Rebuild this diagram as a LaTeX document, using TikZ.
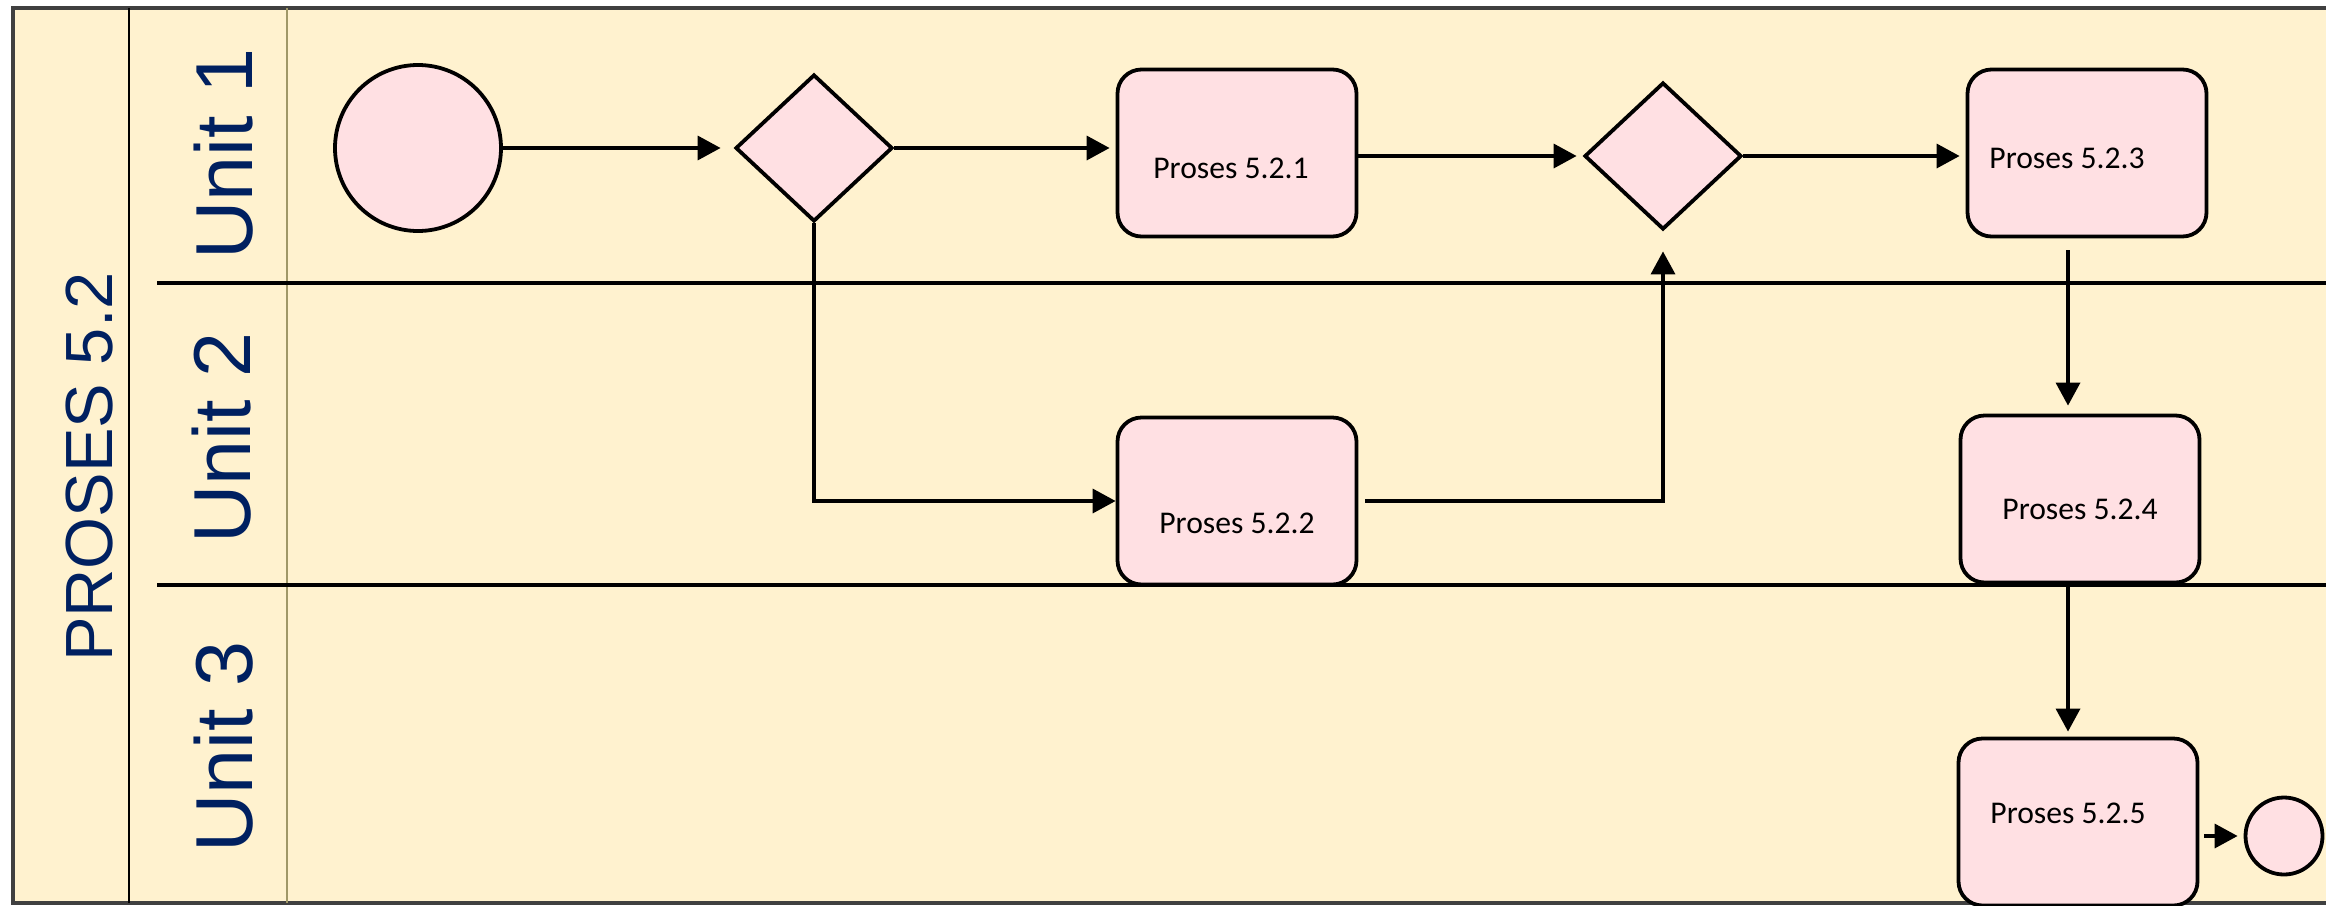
\documentclass[tikz,border=0pt]{standalone}
\usepackage{fontspec}
\setmainfont{Carlito}
\newfontfamily\lanefont{Liberation Sans}
\usetikzlibrary{arrows.meta,shapes.geometric}
\definecolor{lanebg}{HTML}{FFF2CF}
\definecolor{shapefill}{HTML}{FFE0E3}
\definecolor{lanetext}{HTML}{002060}
\definecolor{laneframe}{HTML}{404040}
\definecolor{laneedge}{HTML}{A09868}
\tikzset{
	task/.style={draw, line width=0.38mm, fill=shapefill, rounded corners=0.24cm, minimum width=2.39cm, minimum height=1.67cm, inner sep=0},
	tasktext/.style={font=\fontsize{9}{11}\selectfont, text=black},
	gate/.style={draw, diamond, line width=0.38mm, fill=shapefill, minimum width=1.57cm, minimum height=1.47cm, inner sep=0},
	event/.style={draw, circle, line width=0.38mm, fill=shapefill, inner sep=0},
	flow/.style={line width=0.35mm, -{Triangle[length=0.23cm, width=0.24cm]}},
	lanename/.style={rotate=90, text=lanetext, inner sep=0}
}

\begin{document}
\begin{tikzpicture}
			%%%%% START %%%%%
			\useasboundingbox (0, 0) rectangle (23.26, 9.05);
			\fill[white] (0, 0) rectangle (23.26, 9.05);
			
			\draw[line width=0.4mm, draw=laneframe, fill=lanebg] (0.13, 0.02) rectangle (23.6, 8.97);
			\draw[line width=0.22mm] (1.29, 0.02) -- (1.29, 8.97);
			\draw[line width=0.22mm, draw=laneedge] (2.87, 0.02) -- (2.87, 8.97);
			
			\draw[line width=0.35mm] (1.57, 6.22) -- (23.6, 6.22);
			\draw[line width=0.35mm] (1.57, 3.20) -- (23.6, 3.20);
			
			\node[lanename, font=\lanefont\fontsize{19}{19}\selectfont] (pool) at (0.90, 4.38) {PROSES 5.2};
			\node[lanename, font=\lanefont\fontsize{23}{23}\selectfont] (unit1) at (2.24, 7.51) {Unit 1};
			\node[lanename, font=\lanefont\fontsize{23}{23}\selectfont] (unit2) at (2.22, 4.67) {Unit 2};
			\node[lanename, font=\lanefont\fontsize{23}{23}\selectfont] (unit3) at (2.24, 1.58) {Unit 3};
			
			\node[event, minimum size=1.66cm] (start) at (4.18, 7.57) {};
			\node[gate] (gate1) at (8.14, 7.57) {};
			\node[task, label={[tasktext, xshift=-0.06cm, yshift=-0.15cm]center:Proses 5.2.1}] (p1) at (12.37, 7.52) {};
			\node[task, label={[tasktext, yshift=-0.22cm]center:Proses 5.2.2}] (p2) at (12.37, 4.04) {};
			\node[gate] (gate2) at (16.63, 7.49) {};
			\node[task, label={[tasktext, xshift=-0.20cm, yshift=-0.05cm]center:Proses 5.2.3}] (p3) at (20.87, 7.52) {};
			\node[task, label={[tasktext, yshift=-0.10cm]center:Proses 5.2.4}] (p4) at (20.80, 4.06) {};
			\node[task, label={[tasktext, xshift=-0.10cm, yshift=0.09cm]center:Proses 5.2.5}] (p5) at (20.78, 0.83) {};
			\node[event, minimum size=0.77cm] (stop) at (22.84, 0.69) {};
			\coordinate (drop) at (20.68, 0);
			
			\draw[flow, shorten >=0.13cm] (start) -- (gate1);
			\draw[flow, shorten >=0.06cm] (gate1.east) -- (gate1.east -| p1.west);
			\draw[flow] (gate1.south) |- (p2.west);
			\draw[flow, shorten >=0.06cm] (p1.east |- gate2) -- (gate2.west);
			\draw[flow, shorten <=0.07cm, shorten >=0.2cm] (p2.east) -| (gate2.south);
			\draw[flow, shorten >=0.06cm] (gate2.east) -- (gate2.east -| p3.west);
			\draw[flow, shorten <=0.12cm, shorten >=0.08cm] (p3.south -| drop) -- (p4.north -| drop);
			\draw[flow, shorten >=0.05cm] (p4.south -| drop) -- (p5.north -| drop);
			\draw[flow, shorten <=0.05cm, shorten >=0.06cm] (p5.east |- stop) -- (stop.west);
			%%%%% END %%%%%
\end{tikzpicture}
\end{document}
